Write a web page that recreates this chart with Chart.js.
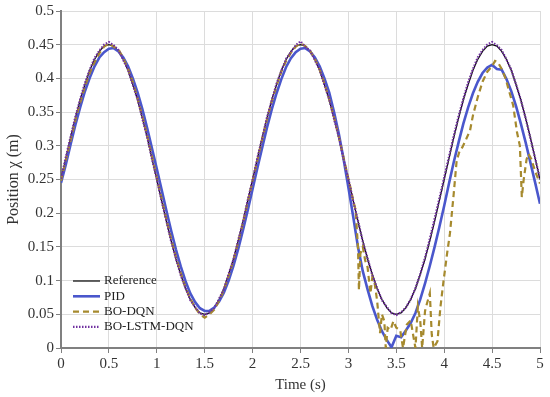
<!DOCTYPE html>
<html>
<head>
<meta charset="utf-8">
<script src="https://cdn.jsdelivr.net/npm/chart.js@4.4.1/dist/chart.umd.min.js"></script>
<style>
body { margin: 0; background: #fff; }
</style>
</head>
<body>
<canvas id="grafico" width="550" height="397"></canvas>
<script>
// time grid (s) shared by Reference, PID and BO-LSTM-DQN
const timeGrid = [
  0,0.05,0.1,0.15,0.2,0.25,0.3,0.35,0.4,0.45,
  0.5,0.55,0.6,0.65,0.7,0.75,0.8,0.85,0.9,0.95,
  1,1.05,1.1,1.15,1.2,1.25,1.3,1.35,1.4,1.45,
  1.5,1.55,1.6,1.65,1.7,1.75,1.8,1.85,1.9,1.95,
  2,2.05,2.1,2.15,2.2,2.25,2.3,2.35,2.4,2.45,
  2.5,2.55,2.6,2.65,2.7,2.75,2.8,2.85,2.9,2.95,
  3,3.05,3.1,3.15,3.2,3.25,3.3,3.35,3.4,3.45,
  3.5,3.55,3.6,3.65,3.7,3.75,3.8,3.85,3.9,3.95,
  4,4.05,4.1,4.15,4.2,4.25,4.3,4.35,4.4,4.45,
  4.5,4.55,4.6,4.65,4.7,4.75,4.8,4.85,4.9,4.95,
  5
]

const referenceX = [
  0.250,0.281,0.312,0.341,0.368,0.391,0.412,0.428,0.440,0.448,
  0.450,0.448,0.440,0.428,0.412,0.391,0.368,0.341,0.312,0.281,
  0.250,0.219,0.188,0.159,0.132,0.109,0.088,0.072,0.060,0.052,
  0.050,0.052,0.060,0.072,0.088,0.109,0.132,0.159,0.188,0.219,
  0.250,0.281,0.312,0.341,0.368,0.391,0.412,0.428,0.440,0.448,
  0.450,0.448,0.440,0.428,0.412,0.391,0.368,0.341,0.312,0.281,
  0.250,0.219,0.188,0.159,0.132,0.109,0.088,0.072,0.060,0.052,
  0.050,0.052,0.060,0.072,0.088,0.109,0.132,0.159,0.188,0.219,
  0.250,0.281,0.312,0.341,0.368,0.391,0.412,0.428,0.440,0.448,
  0.450,0.448,0.440,0.428,0.412,0.391,0.368,0.341,0.312,0.281,
  0.250
]

const pidX = [
  0.245,0.272,0.302,0.331,0.357,0.381,0.401,0.418,0.431,0.439,
  0.444,0.445,0.440,0.431,0.418,0.400,0.379,0.354,0.326,0.296,
  0.266,0.235,0.204,0.174,0.146,0.121,0.099,0.081,0.068,0.059,
  0.055,0.055,0.060,0.069,0.082,0.100,0.122,0.147,0.175,0.205,
  0.236,0.267,0.297,0.327,0.354,0.378,0.399,0.417,0.430,0.439,
  0.444,0.445,0.440,0.431,0.418,0.400,0.379,0.350,0.318,0.280,
  0.238,0.195,0.150,0.114,0.087,0.062,0.042,0.025,0.012,0.001,
  0.018,0.016,0.026,0.037,0.052,0.072,0.096,0.122,0.150,0.180,
  0.211,0.244,0.276,0.305,0.333,0.357,0.378,0.395,0.408,0.416,
  0.420,0.414,0.413,0.399,0.381,0.359,0.333,0.305,0.275,0.245,
  0.214
]

const lstmX = [
  0.251,0.283,0.313,0.343,0.369,0.393,0.413,0.430,0.441,0.450,
  0.454,0.449,0.442,0.427,0.413,0.390,0.369,0.340,0.313,0.280,
  0.251,0.218,0.189,0.158,0.133,0.108,0.089,0.071,0.061,0.051,
  0.049,0.053,0.059,0.073,0.087,0.110,0.131,0.160,0.187,0.220,
  0.249,0.282,0.311,0.342,0.367,0.392,0.411,0.429,0.439,0.449,
  0.455,0.447,0.441,0.427,0.413,0.390,0.369,0.340,0.313,0.280,
  0.251,0.218,0.189,0.158,0.133,0.108,0.089,0.071,0.061,0.052,
  0.049,0.053,0.060,0.072,0.089,0.110,0.134,0.162,0.192,0.222,
  0.253,0.284,0.315,0.344,0.370,0.394,0.414,0.431,0.442,0.450,
  0.454,0.449,0.442,0.428,0.413,0.391,0.368,0.341,0.311,0.281,
  0.251
]

// BO-DQN has its own, denser time samples around the 3-4 s oscillation
const dqnTime = [
  0,0.05,0.1,0.15,0.2,0.25,0.3,0.35,0.4,0.45,
  0.5,0.55,0.6,0.65,0.7,0.75,0.8,0.85,0.9,0.95,
  1,1.05,1.1,1.15,1.2,1.25,1.3,1.35,1.4,1.45,
  1.5,1.55,1.6,1.65,1.7,1.75,1.8,1.85,1.9,1.95,
  2,2.05,2.1,2.15,2.2,2.25,2.3,2.35,2.4,2.45,
  2.5,2.55,2.6,2.65,2.7,2.75,2.8,2.85,2.9,2.95,
  3,3.025,3.05,3.075,3.1,3.11,3.125,3.15,3.175,3.2,
  3.23,3.25,3.275,3.3,3.33,3.35,3.375,3.39,3.41,3.44,
  3.47,3.5,3.54,3.57,3.61,3.65,3.675,3.7,3.725,3.75,
  3.77,3.8,3.82,3.85,3.87,3.89,3.91,3.93,3.96,3.99,
  4.03,4.06,4.1,4.13,4.16,4.19,4.23,4.27,4.3,4.35,
  4.4,4.45,4.5,4.53,4.56,4.6,4.64,4.68,4.72,4.76,
  4.79,4.81,4.83,4.86,4.88,4.91,4.95,5
]

const dqnX = [
  0.248,0.279,0.308,0.338,0.364,0.388,0.408,0.424,0.437,0.447,
  0.452,0.447,0.443,0.430,0.414,0.394,0.370,0.343,0.315,0.284,
  0.253,0.222,0.191,0.162,0.135,0.111,0.090,0.073,0.060,0.050,
  0.045,0.050,0.057,0.070,0.086,0.107,0.130,0.157,0.186,0.217,
  0.248,0.279,0.310,0.339,0.366,0.389,0.410,0.426,0.438,0.447,
  0.452,0.448,0.441,0.429,0.413,0.392,0.369,0.342,0.313,0.282,
  0.251,0.236,0.219,0.205,0.150,0.086,0.140,0.150,0.130,0.120,
  0.081,0.105,0.095,0.070,0.022,0.050,0.040,0.000,0.030,0.027,
  0.040,0.030,0.027,0.000,0.035,0.041,0.020,0.000,0.061,0.040,
  0.000,0.055,0.066,0.081,0.020,0.000,0.005,0.010,0.060,0.096,
  0.140,0.170,0.230,0.278,0.292,0.298,0.310,0.323,0.345,0.372,
  0.395,0.410,0.418,0.426,0.424,0.414,0.400,0.380,0.360,0.320,
  0.300,0.224,0.250,0.280,0.288,0.280,0.262,0.244
]

const xTicks = [0,0.5,1,1.5,2,2.5,3,3.5,4,4.5,5]
const yTicks = [0,0.05,0.1,0.15,0.2,0.25,0.3,0.35,0.4,0.45,0.5]

function pontos(tempos, valores){
    return tempos.map((t, i) => ({ x: t, y: valores[i] }))
}

const fonte = '"Liberation Serif", "Times New Roman", serif'

const legendaInterna = {
    id: 'legendaInterna',
    afterDatasetsDraw(chart){
        const ctx = chart.ctx
        const area = chart.chartArea
        ctx.save()
        ctx.font = '13px ' + fonte
        ctx.textBaseline = 'middle'
        chart.data.datasets.forEach((ds, i) => {
            const y = area.bottom - 67 + i * 15.3
            ctx.strokeStyle = ds.borderColor
            ctx.lineWidth = ds.borderWidth
            ctx.setLineDash(ds.borderDash || [])
            ctx.beginPath()
            ctx.moveTo(area.left + 12, y)
            ctx.lineTo(area.left + 39, y)
            ctx.stroke()
            ctx.setLineDash([])
            ctx.fillStyle = '#222'
            ctx.fillText(ds.label, area.left + 43, y)
        })
        ctx.restore()
    }
}

const configuracao = {
    type: 'line',
    data: {
        datasets: [
            { label: 'Reference', data: pontos(timeGrid, referenceX), borderColor: '#111111', borderWidth: 1.3, order: 4 },
            { label: 'PID', data: pontos(timeGrid, pidX), borderColor: '#4a57cc', borderWidth: 2.6, order: 3 },
            { label: 'BO-DQN', data: pontos(dqnTime, dqnX), borderColor: '#a68a2e', borderWidth: 2.2, borderDash: [6, 4], order: 2 },
            { label: 'BO-LSTM-DQN', data: pontos(timeGrid, lstmX), borderColor: '#7030a0', borderWidth: 2.2, borderDash: [1.5, 1.5], order: 1 }
        ]
    },
    options: {
        responsive: false,
        animation: false,
        layout: { padding: { left: 0, right: 10, top: 10, bottom: 0 } },
        elements: { point: { radius: 0 }, line: { tension: 0 } },
        plugins: { legend: { display: false }, tooltip: { enabled: false } },
        scales: {
            x: {
                type: 'linear',
                min: 0,
                max: 5,
                afterBuildTicks: s => { s.ticks = xTicks.map(v => ({ value: v })) },
                afterFit: s => { s.height = 49 },
                ticks: { color: '#333', font: { family: fonte, size: 15 }, padding: 2, maxRotation: 0, callback: v => String(v) },
                grid: { color: '#dcdcdc', tickColor: '#808080', tickLength: 5 },
                border: { color: '#808080', width: 2 },
                title: { display: true, text: 'Time (s)', color: '#333', font: { family: fonte, size: 15 }, padding: { top: 0, bottom: 3 } }
            },
            y: {
                min: 0,
                max: 0.5,
                afterBuildTicks: s => { s.ticks = yTicks.map(v => ({ value: v })) },
                afterFit: s => { s.width = 61 },
                ticks: { color: '#333', font: { family: fonte, size: 15 }, padding: 2, callback: v => String(+v.toFixed(2)) },
                grid: { color: '#dcdcdc', tickColor: '#808080', tickLength: 5 },
                border: { color: '#808080', width: 2 },
                title: { display: true, text: 'Position χ (m)', color: '#333', font: { family: fonte, size: 16 }, padding: { top: 4, bottom: 0 } }
            }
        }
    },
    plugins: [legendaInterna]
}

new Chart(document.getElementById('grafico'), configuracao)
</script>
</body>
</html>
